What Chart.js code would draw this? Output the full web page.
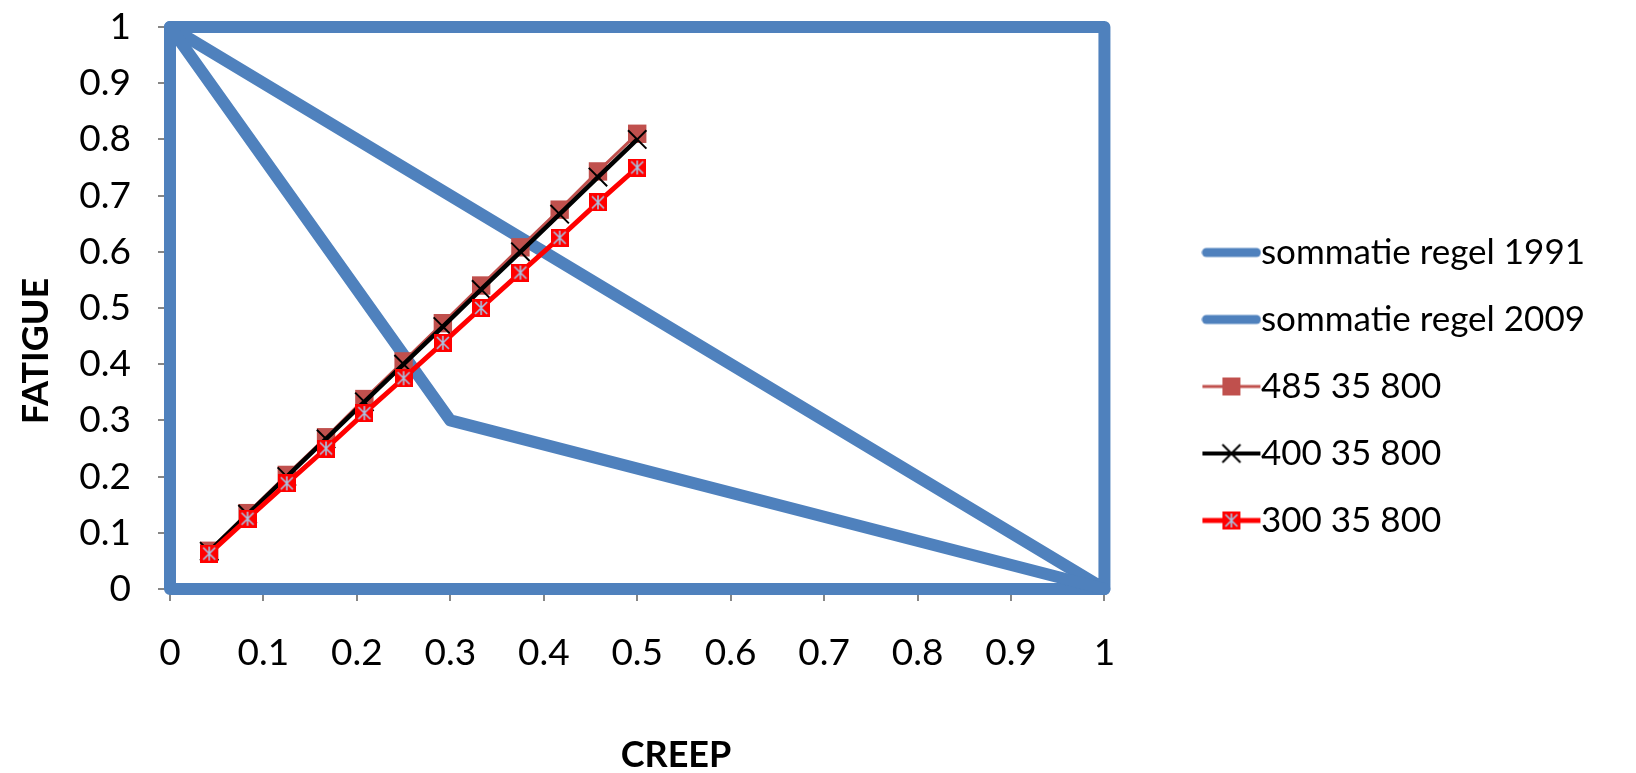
<!DOCTYPE html>
<html>
<head>
<meta charset="utf-8">
<title>Creep - Fatigue</title>
<script src="https://cdn.jsdelivr.net/npm/chart.js@4.4.1/dist/chart.umd.min.js"></script>
<style>
  html, body { margin: 0; padding: 0; background: #fff; }
  #wrap { width: 1636px; height: 773px; position: relative; }
</style>
</head>
<body>
<div id="wrap"><canvas id="chart"></canvas></div>
<script>
// sommatie regels (blue lines, incl. the frame)
const creep1991 = [0, 1, 0, 0, 1, 1];
const fatigue1991 = [1, 0, 0, 1, 1, 0];
const creep2009 = [0, 0.3, 1];
const fatigue2009 = [1, 0.3, 0];

// measured series
const creepPts = [0.042, 0.083, 0.125, 0.167, 0.208, 0.25, 0.292, 0.333, 0.375, 0.417, 0.458, 0.5];
const fatigue485 = [0.068, 0.135, 0.203, 0.27, 0.338, 0.405, 0.473, 0.54, 0.608, 0.675, 0.743, 0.81];
const fatigue400 = [0.067, 0.133, 0.2, 0.267, 0.333, 0.4, 0.467, 0.533, 0.6, 0.667, 0.733, 0.8];
const fatigue300 = [0.063, 0.125, 0.188, 0.25, 0.313, 0.375, 0.438, 0.5, 0.563, 0.625, 0.688, 0.75];

const seriesLabels = ['sommatie regel 1991', 'sommatie regel 2009', '485 35 800', '400 35 800', '300 35 800'];
const tickValues = [0, 0.1, 0.2, 0.3, 0.4, 0.5, 0.6, 0.7, 0.8, 0.9, 1];

const BLUE = '#4F81BD';
const BROWN = '#C0504D';
const STAR_LINE = '#A9C2E0';

const toPts = (xs, ys) => xs.map((x, i) => ({ x, y: ys[i] }));

function starMarker(size) {
  const c = document.createElement('canvas');
  c.width = size; c.height = size;
  const g = c.getContext('2d');
  g.fillStyle = '#FF0000';
  g.fillRect(0, 0, size, size);
  g.strokeStyle = STAR_LINE;
  g.lineWidth = 1.6;
  g.beginPath();
  g.moveTo(3, 3); g.lineTo(size - 3, size - 3);
  g.moveTo(size - 3, 3); g.lineTo(3, size - 3);
  g.moveTo(size / 2, 2); g.lineTo(size / 2, size - 2);
  g.stroke();
  return c;
}

// legend sample: line + marker, drawn as a point-style image
function legendIcon(kind) {
  const w = 60, h = 22;
  const c = document.createElement('canvas');
  c.width = w; c.height = h;
  const g = c.getContext('2d');
  const cy = h / 2;
  g.lineCap = 'round';
  if (kind === 'blue') {
    g.strokeStyle = BLUE; g.lineWidth = 9;
    g.beginPath(); g.moveTo(5, cy); g.lineTo(w - 5, cy); g.stroke();
  } else if (kind === 'rect') {
    g.strokeStyle = BROWN; g.lineWidth = 3; g.lineCap = 'butt';
    g.beginPath(); g.moveTo(1, cy); g.lineTo(w - 1, cy); g.stroke();
    g.fillStyle = BROWN; g.fillRect(w / 2 - 9, cy - 9, 18, 18);
  } else if (kind === 'cross') {
    g.strokeStyle = '#000'; g.lineWidth = 4; g.lineCap = 'butt';
    g.beginPath(); g.moveTo(1, cy); g.lineTo(w - 1, cy); g.stroke();
    g.lineWidth = 2;
    g.beginPath();
    g.moveTo(w / 2 - 9, cy - 9); g.lineTo(w / 2 + 9, cy + 9);
    g.moveTo(w / 2 + 9, cy - 9); g.lineTo(w / 2 - 9, cy + 9);
    g.stroke();
  } else {
    g.strokeStyle = '#FF0000'; g.lineWidth = 5; g.lineCap = 'butt';
    g.beginPath(); g.moveTo(1, cy); g.lineTo(w - 1, cy); g.stroke();
    g.drawImage(starMarker(18), w / 2 - 9, cy - 9);
  }
  return c;
}

const legendIcons = [legendIcon('blue'), legendIcon('blue'), legendIcon('rect'), legendIcon('cross'), legendIcon('star')];

const axisTitles = {
  id: 'axisTitles',
  afterDraw(chart) {
    const ctx = chart.ctx;
    ctx.save();
    ctx.fillStyle = '#000';
    ctx.font = 'bold 36px Lato';
    ctx.textAlign = 'center';
    ctx.textBaseline = 'middle';
    ctx.fillText('CREEP', 676, 755);
    ctx.translate(36, 351);
    ctx.rotate(-Math.PI / 2);
    ctx.fillText('FATIGUE', 0, 0);
    ctx.restore();
  }
};

Chart.defaults.font.family = 'Lato';
Chart.defaults.color = '#000';

const axisGrid = { display: true, drawOnChartArea: false, drawTicks: true, tickLength: 12, color: '#868686', lineWidth: 2 };
const axisBorder = { display: true, color: '#868686', width: 2 };
const hiddenAxis = { grid: { display: false }, ticks: { display: false }, border: { display: false } };

new Chart(document.getElementById('chart'), {
  type: 'line',
  data: {
    datasets: [
      {
        label: seriesLabels[0], data: toPts(creep1991, fatigue1991), order: 4,
        borderColor: BLUE, borderWidth: 12, borderJoinStyle: 'round', borderCapStyle: 'round',
        pointRadius: 0, clip: false, xAxisID: 'x', yAxisID: 'y'
      },
      {
        label: seriesLabels[1], data: toPts(creep2009, fatigue2009), order: 3,
        borderColor: BLUE, borderWidth: 12, borderJoinStyle: 'round', borderCapStyle: 'round',
        pointRadius: 0, clip: false, xAxisID: 'x', yAxisID: 'y'
      },
      {
        label: seriesLabels[2], data: toPts(creepPts, fatigue485), order: 2,
        borderColor: BROWN, borderWidth: 3, pointStyle: 'rect', pointRadius: 13,
        pointBackgroundColor: BROWN, pointBorderColor: BROWN, pointBorderWidth: 0,
        clip: false, xAxisID: 'x', yAxisID: 'y'
      },
      {
        label: seriesLabels[3], data: toPts(creepPts, fatigue400), order: 1,
        borderColor: '#000', borderWidth: 4.5, pointStyle: 'crossRot', pointRadius: 13,
        pointBorderColor: '#000', pointBorderWidth: 2,
        clip: false, xAxisID: 'x', yAxisID: 'y'
      },
      {
        label: seriesLabels[4], data: toPts(creepPts, fatigue300), order: 0,
        borderColor: '#FF0000', borderWidth: 5, pointStyle: starMarker(18), pointRadius: 9,
        clip: false, xAxisID: 'x', yAxisID: 'y'
      }
    ]
  },
  options: {
    responsive: true,
    maintainAspectRatio: false,
    animation: false,
    layout: { padding: { top: 0, right: 41, bottom: 0, left: 0 } },
    scales: {
      x: {
        type: 'linear', position: 'bottom', min: 0, max: 1, z: 1,
        afterBuildTicks: s => { s.ticks = tickValues.map(v => ({ value: v })); },
        afterFit: s => { s.height = 184; },
        ticks: { font: { size: 37 }, padding: 30, maxRotation: 0, callback: v => String(v) },
        grid: axisGrid, border: axisBorder
      },
      y: {
        type: 'linear', position: 'left', min: 0, max: 1, z: 1,
        afterBuildTicks: s => { s.ticks = tickValues.map(v => ({ value: v })); },
        afterFit: s => { s.width = 170; s.paddingTop = 0; s.paddingBottom = 0; },
        ticks: { font: { size: 37 }, padding: 27, callback: v => String(v) },
        grid: axisGrid, border: axisBorder
      },
      yGap: { type: 'linear', axis: 'y', position: 'right', ...hiddenAxis, afterFit: s => { s.width = 83; } },
      xGap: { type: 'linear', axis: 'x', position: 'top', ...hiddenAxis, afterFit: s => { s.height = 27; } }
    },
    plugins: {
      legend: {
        position: 'right',
        maxWidth: 410,
        labels: {
          font: { size: 35 },
          color: '#000',
          padding: 32,
          usePointStyle: true,
          pointStyleWidth: 24,
          generateLabels: chart => chart.data.datasets.map((ds, i) => ({
            text: ds.label,
            pointStyle: legendIcons[i],
            fillStyle: 'transparent',
            strokeStyle: 'transparent',
            lineWidth: 0,
            fontColor: '#000',
            hidden: false,
            datasetIndex: i
          }))
        }
      },
      tooltip: { enabled: false }
    }
  },
  plugins: [axisTitles]
});
</script>
</body>
</html>
